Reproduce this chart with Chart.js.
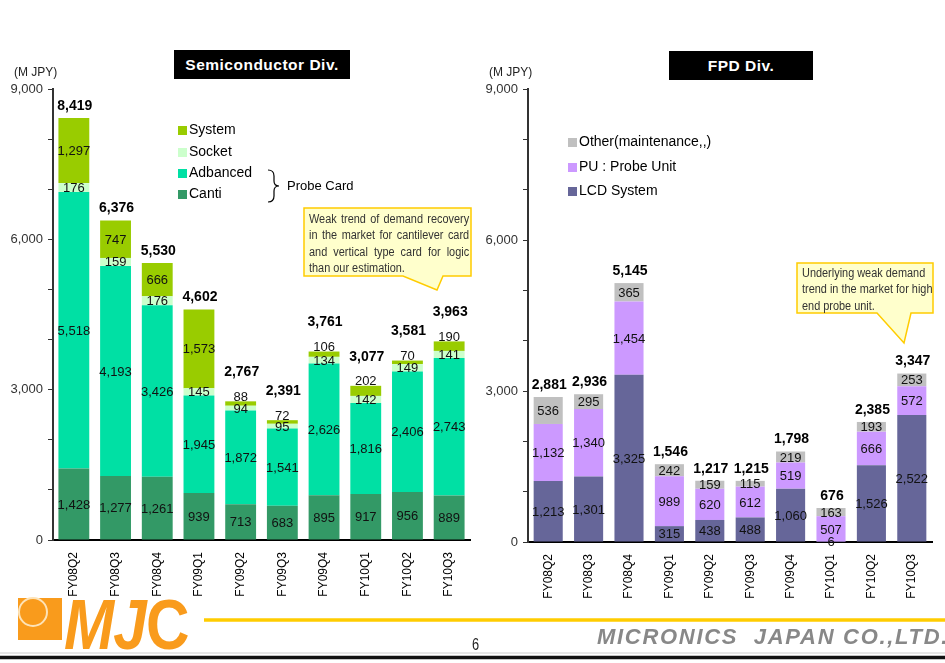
<!DOCTYPE html>
<html>
<head>
<meta charset="utf-8">
<script src="https://cdn.jsdelivr.net/npm/chart.js@4"></script>
<style>
  body { margin: 0; background: #fff; }
  #page { position: relative; width: 945px; height: 663px; overflow: hidden; font-family: "Liberation Sans", Arial, sans-serif; }
  .abs { position: absolute; }
  canvas { position: absolute; }
  .title { background: #000; color: #fff; font-weight: bold; font-size: 15.5px; text-align: center; letter-spacing: 0.5px; }
  .unit { font-size: 12px; color: #222; }
  .lg { font-size: 14px; color: #000; white-space: nowrap; }
  .sq { position: absolute; width: 9px; height: 9px; }
  .note { font-size: 12px; color: #333; transform: scaleX(0.91); transform-origin: 0 0; line-height: 16.3px; white-space: nowrap; }
  .note .j { text-align: justify; text-align-last: justify; }
</style>
</head>
<body>
<div id="page">
  <canvas id="semi" style="left:0;top:64px" width="480" height="540"></canvas>
  <canvas id="fpd" style="left:480px;top:64px" width="465" height="542"></canvas>

  <div class="abs title" style="left:174px;top:50px;width:176px;height:29px;line-height:29px">Semiconductor Div.</div>
  <div class="abs title" style="left:669px;top:51px;width:144px;height:29px;line-height:29px">FPD Div.</div>
  <div class="abs unit" style="left:14px;top:65px">(M JPY)</div>
  <div class="abs unit" style="left:489px;top:65px">(M JPY)</div>

  <div id="legSemi"></div>
  <div id="legFpd"></div>
  <svg class="abs" style="left:0;top:0" width="945" height="663">
    <path d="M268,170 Q274,170 274,176 L274,181 Q274,186 279,186 Q274,186 274,191 L274,196 Q274,202 268,202" fill="none" stroke="#000" stroke-width="1.2"/>
    <polygon points="304,208 471,208 471,276 443,276 437,290 403,276 304,276" fill="#FFFFCC" stroke="#FFCC00" stroke-width="1.5"/>
    <polygon points="797,263 933,263 933,313 911,313 904,343 877,313 797,313" fill="#FFFFCC" stroke="#FFCC00" stroke-width="1.5"/>
    <line x1="204" y1="620" x2="945" y2="620" stroke="#FFCC00" stroke-width="3.5"/>
    <line x1="0" y1="653" x2="945" y2="653" stroke="#ccc" stroke-width="1"/>
    <line x1="0" y1="657.5" x2="945" y2="657.5" stroke="#111" stroke-width="3.5"/>
    <rect x="18" y="598" width="44" height="42" fill="#F99B1C"/>
    <circle cx="33" cy="612" r="14" fill="#F99B1C" stroke="#FDE3B8" stroke-width="2"/>
  </svg>
  <div class="abs lg" style="left:287px;top:178px;font-size:13px">Probe Card</div>

  <div class="abs note" style="left:309px;top:211px;width:176px">
    <div class="j">Weak trend of demand recovery</div>
    <div class="j">in the market for cantilever card</div>
    <div class="j">and vertical type card for logic</div>
    <div>than our estimation.</div>
  </div>
  <div class="abs note" style="left:802px;top:265px">
    <div>Underlying weak demand</div>
    <div>trend in the market for high</div>
    <div>end probe unit.</div>
  </div>

  <div class="abs" style="left:64px;top:585px;font:bold 70px 'Liberation Sans',Arial,sans-serif;color:#F99B1C;transform:scaleX(0.86);transform-origin:0 0;letter-spacing:-1px;white-space:nowrap"><i>MJ</i>C</div>
  <div class="abs" style="left:472px;top:636px;font-size:16px;color:#222;transform:scaleX(0.8);transform-origin:0 0">6</div>
  <div class="abs" style="left:597px;top:624px;font:italic bold 22px 'Liberation Sans',Arial,sans-serif;color:#888;white-space:nowrap;letter-spacing:1.7px">MICRONICS&nbsp; JAPAN CO.,LTD.</div>
</div>

<script>
const quarters = ['FY08Q2', 'FY08Q3', 'FY08Q4', 'FY09Q1', 'FY09Q2', 'FY09Q3', 'FY09Q4', 'FY10Q1', 'FY10Q2', 'FY10Q3']

// Semiconductor Div. (bottom to top)
const canti    = [1428, 1277, 1261, 939, 713, 683, 895, 917, 956, 889]
const adbanced = [5518, 4193, 3426, 1945, 1872, 1541, 2626, 1816, 2406, 2743]
const socket   = [176, 159, 176, 145, 94, 95, 134, 142, 149, 141]
const system   = [1297, 747, 666, 1573, 88, 72, 106, 202, 70, 190]
const semiTotals = [8419, 6376, 5530, 4602, 2767, 2391, 3761, 3077, 3581, 3963]

// FPD Div. (bottom to top)
const lcdSystem = [1213, 1301, 3325, 315, 438, 488, 1060, 6, 1526, 2522]
const probeUnit = [1132, 1340, 1454, 989, 620, 612, 519, 507, 666, 572]
const other     = [536, 295, 365, 242, 159, 115, 219, 163, 193, 253]
const fpdTotals = [2881, 2936, 5145, 1546, 1217, 1215, 1798, 676, 2385, 3347]

const yTicks = [0, 3000, 6000, 9000]

const fmt = v => v.toLocaleString('en-US')
const FONT = '"Liberation Sans", Arial, sans-serif'

// value in the middle of each segment, bold total on top of the stack
const barLabels = {
    id: 'barLabels',
    afterDatasetsDraw(chart, args, opts) {
        const ctx = chart.ctx
        const last = chart.data.datasets.length - 1
        const totalY = []
        ctx.save()
        ctx.textAlign = 'center'
        ctx.textBaseline = 'middle'
        ctx.fillStyle = '#111'
        ctx.font = '13px ' + FONT
        chart.data.datasets.forEach((ds, i) => {
            chart.getDatasetMeta(i).data.forEach((bar, j) => {
                const p = bar.getProps(['x', 'y', 'base'], true)
                let y = (p.y + p.base) / 2 + 1
                if (i == last) {
                    totalY[j] = p.y - 12
                    // thin top segment: value sits just over the bar, total above it
                    if (opts.liftSmall && p.base - p.y < 14) {
                        y = p.y - 4
                        totalY[j] = y - 25
                    }
                }
                ctx.fillText(fmt(ds.data[j]), p.x, y)
            })
        })
        ctx.font = 'bold 14px ' + FONT
        ctx.fillStyle = '#000'
        chart.getDatasetMeta(last).data.forEach((bar, j) => {
            ctx.fillText(fmt(opts.totals[j]), bar.x + 1, totalY[j])
        })
        ctx.restore()
    }
}

function makeChart(id, datasets, totals, pad, barPct, liftSmall) {
    return new Chart(document.getElementById(id), {
        type: 'bar',
        data: { labels: quarters, datasets: datasets },
        options: {
            responsive: false,
            animation: false,
            layout: { padding: { top: 25, right: pad, left: 0, bottom: 0 } },
            datasets: { bar: { categoryPercentage: 1, barPercentage: barPct } },
            plugins: {
                legend: { display: false },
                tooltip: { enabled: false },
                barLabels: { totals: totals, liftSmall: liftSmall }
            },
            scales: {
                x: {
                    stacked: true,
                    grid: { display: false },
                    border: { display: true, color: '#000', width: 2 },
                    ticks: { minRotation: 90, maxRotation: 90, padding: 4, color: '#000', font: { size: 12, family: FONT } },
                    afterFit: s => { s.height = 64 }
                },
                y: {
                    stacked: true,
                    min: 0,
                    max: 9000,
                    grid: { drawOnChartArea: false, drawTicks: true, tickLength: 5, color: '#333' },
                    border: { display: true, color: '#333', width: 2 },
                    ticks: {
                        stepSize: 1000,
                        padding: 5,
                        color: '#333',
                        font: { size: 13, family: FONT },
                        callback: v => yTicks.includes(v) ? fmt(v) : ''
                    },
                    afterFit: s => { s.width = id == 'semi' ? 53 : 48 }
                }
            }
        },
        plugins: [barLabels]
    })
}

makeChart('semi', [
    { label: 'Canti', data: canti, backgroundColor: '#339966' },
    { label: 'Adbanced', data: adbanced, backgroundColor: '#00E0A4' },
    { label: 'Socket', data: socket, backgroundColor: '#CCFFCC' },
    { label: 'System', data: system, backgroundColor: '#99CC00' }
], semiTotals, 10, 0.74, true)

makeChart('fpd', [
    { label: 'LCD System', data: lcdSystem, backgroundColor: '#666699' },
    { label: 'PU : Probe Unit', data: probeUnit, backgroundColor: '#CC99FF' },
    { label: 'Other(maintenance,,)', data: other, backgroundColor: '#C0C0C0' }
], fpdTotals, 13, 0.72, false)

// legends (top item first)
function legend(el, items, x, ys) {
    const box = document.getElementById(el)
    items.forEach((it, i) => {
        const sq = document.createElement('div')
        sq.className = 'sq'
        sq.style.left = x + 'px'
        sq.style.top = (ys[i] - 4) + 'px'
        sq.style.background = it[1]
        box.appendChild(sq)
        const t = document.createElement('div')
        t.className = 'abs lg'
        t.style.left = (x + 11) + 'px'
        t.style.top = (ys[i] - 9) + 'px'
        t.textContent = it[0]
        box.appendChild(t)
    })
}
legend('legSemi', [['System', '#99CC00'], ['Socket', '#CCFFCC'], ['Adbanced', '#00E0A4'], ['Canti', '#339966']], 178, [130, 152, 173, 194])
legend('legFpd', [['Other(maintenance,,)', '#C0C0C0'], ['PU : Probe Unit', '#CC99FF'], ['LCD System', '#666699']], 568, [142, 167, 191])
</script>
</body>
</html>
